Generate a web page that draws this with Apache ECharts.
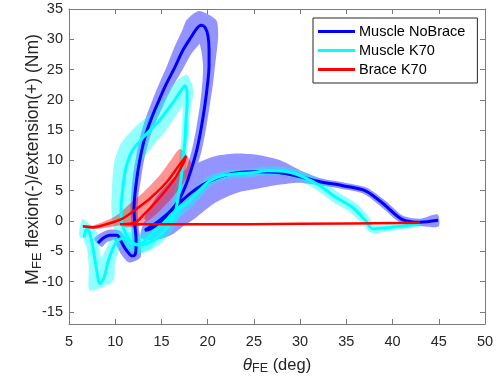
<!DOCTYPE html>
<html><head><meta charset="utf-8">
<script src="https://cdn.jsdelivr.net/npm/echarts@6/dist/echarts.min.js"></script>
<style>html,body{margin:0;padding:0;background:#fff}#c{width:502px;height:380px}</style>
</head><body><div id="c"></div>
<script>
// ---- tick labels ----
const xTicks = [5, 10, 15, 20, 25, 30, 35, 40, 45, 50];
const yTicks = [-15, -10, -5, 0, 5, 10, 15, 20, 25, 30, 35];
const seriesNames = ['Muscle NoBrace', 'Muscle K70', 'Brace K70'];

// ---- Muscle NoBrace (mean curve and band half-width) ----
const blueX = [8.14,8.68,9.44,10.19,10.73,11.27,11.82,12.14,12.25,12.25,12.14,12.03,12.14,12.36,12.68,13.22,13.87,14.63,15.49,16.47,17.33,18.20,18.85,19.28,19.71,20.04,20.15,20.15,20.04,19.71,19.28,18.85,18.31,17.66,16.79,15.71,14.52,13.55,13.22,13.76,14.84,15.93,17.01,18.09,19.50,21.33,23.17,25.34,27.83,29.99,32.15,34.64,37.02,38.97,41.02,42.97,44.92];
const blueY = [-3.64,-2.83,-2.34,-2.34,-3.64,-4.95,-5.77,-5.60,-4.46,-2.83,-0.87,2.08,4.53,7.30,10.24,13.84,16.78,19.56,22.50,25.44,28.22,30.34,31.81,32.30,31.98,30.51,28.22,25.77,23.32,19.23,15.15,11.88,8.94,6.00,3.22,1.26,-0.21,-1.19,-1.52,-1.36,-0.21,1.58,3.06,4.53,6.00,7.30,7.96,8.12,7.96,7.30,6.49,5.83,5.02,2.89,0.28,-0.21,0.11];
const blueSD = [0.9,0.9,0.9,0.9,1.0,1.1,1.2,1.0,0.8,0.7,0.6,0.6,0.6,0.7,0.7,0.8,0.9,1.0,1.1,1.3,1.5,1.8,2.2,2.4,2.2,1.7,1.3,1.0,0.9,0.8,0.8,0.8,0.8,0.8,0.9,1.0,1.1,1.2,1.5,2.0,2.8,3.3,3.6,3.7,3.6,3.5,3.2,2.8,2.0,1.0,0.6,0.55,0.55,0.6,0.6,0.6,1.0];

// ---- Muscle K70 (two pieces separated by null) ----
const cyanX = [6.62,6.95,7.27,7.60,7.92,8.35,8.79,9.22,9.76,10.30,10.95,11.60,12.36,13.22,14.09,15.06,16.03,17.01,18.09,19.17,20.25,21.55,23.17,24.80,26.42,28.58,30.31,32.15,33.78,35.72,37.02,37.89,39.73,41.89,42.97,
  null,
  12.68,11.92,11.27,10.73,10.63,10.73,10.95,11.27,11.82,12.57,13.44,14.52,15.60,16.47,17.12,17.55,17.77,17.77,17.66,17.55,17.33,17.12,16.79,16.47,15.71,14.63,13.55,12.68];
const cyanY = [-2.70,-1.10,-2.20,-4.46,-7.40,-10.34,-9.36,-6.75,-4.46,-3.15,-2.83,-3.32,-3.97,-3.32,-1.85,-0.54,0.77,2.08,3.38,5.18,6.65,7.47,7.79,7.96,8.28,8.12,7.30,5.83,4.00,2.20,0.20,-1.30,-1.05,-0.70,-0.38,
  null,
  -3.97,-3.64,-2.50,-0.38,2.08,4.04,6.98,9.43,11.55,13.02,14.49,16.13,18.25,20.05,21.52,22.34,21.36,19.23,16.78,13.51,10.24,6.98,3.71,1.42,-0.87,-2.66,-3.64,-3.97];
const cyanSD = [0.8,1.6,1.2,1.0,1.2,2.0,1.6,1.2,1.0,1.0,1.2,1.4,1.5,1.5,1.4,1.3,1.2,1.1,1.0,0.9,0.8,0.7,0.7,0.7,0.7,0.7,0.8,0.9,0.9,0.9,0.8,0.7,0.6,0.5,0.5,
  null,
  1.3,1.3,1.4,1.5,1.6,1.7,1.9,2.1,2.2,2.2,2.1,1.9,1.7,1.6,1.7,1.8,1.1,0.7,0.6,0.6,0.6,0.7,0.8,0.9,1.0,1.1,1.2,1.3];

// ---- Brace K70 ----
const redX = [6.51,7.60,8.68,9.76,10.84,11.92,13.76,15.60,16.79,17.66,17.44,16.57,15.60,14.63,13.76,13.01,12.36,11.60,10.73,
  null,
  10.52,19.17,29.99,42.97];
const redY = [-0.87,-1.03,-0.70,-0.21,0.44,1.58,3.71,6.49,8.94,10.74,9.76,7.30,5.34,3.55,2.08,0.93,-0.05,-0.46,-0.54,
  null,
  -0.54,-0.54,-0.46,-0.29];
const redSD = [0.2,0.3,0.5,0.7,1.0,1.3,1.5,1.6,1.6,1.5,1.5,1.6,1.6,1.5,1.4,1.2,0.9,0.6,0.4,
  null,
  0,0,0,0];

const FONT = '"Liberation Sans", Arial, Helvetica, sans-serif';
const AXIS_COLOR = '#7a7a7a';
const TEXT_COLOR = '#262626';

function lineData(X, Y) {
  return X.map((x, i) => x == null ? ['-', '-'] : [x, Y[i]]);
}

function bandSeries(id, X, Y, W, color) {
  return {
    type: 'custom', name: id + ' band', silent: true,
    data: [[20, 0]],
    encode: { x: 0, y: 1 },
    renderItem: function (params, api) {
      const segs = [];
      let seg = [];
      for (let i = 0; i < X.length; i++) {
        if (X[i] == null) { if (seg.length) segs.push(seg); seg = []; continue; }
        const p = api.coord([X[i], Y[i]]);
        const w = Math.abs(api.size([0, W[i]])[1]);
        seg.push([p[0], p[1], w]);
      }
      if (seg.length) segs.push(seg);
      const children = [];
      segs.forEach(function (s) {
        if (s.every(q => q[2] === 0)) return;
        const L = [], R = [];
        for (let i = 0; i < s.length; i++) {
          const a = s[Math.max(0, i - 1)], b = s[Math.min(s.length - 1, i + 1)];
          let tx = b[0] - a[0], ty = b[1] - a[1];
          const len = Math.hypot(tx, ty) || 1;
          tx /= len; ty /= len;
          const nx = -ty, ny = tx;
          L.push([s[i][0] + nx * s[i][2], s[i][1] + ny * s[i][2]]);
          R.push([s[i][0] - nx * s[i][2], s[i][1] - ny * s[i][2]]);
        }
        children.push({
          type: 'polygon',
          shape: { points: L.concat(R.reverse()), smooth: 0.25 },
          style: { fill: color }
        });
      });
      return { type: 'group', children: children };
    },
    z: 2
  };
}

function lineSeries(name, X, Y, color, width) {
  return {
    type: 'line', name: name, data: lineData(X, Y),
    showSymbol: false, symbol: 'none', smooth: 0.3, connectNulls: false,
    lineStyle: { color: color, width: width }, itemStyle: { color: color },
    silent: true, z: 2
  };
}

const chart = echarts.init(document.getElementById('c'), null, { renderer: 'canvas' });

const commonX = {
  type: 'value', min: xTicks[0], max: xTicks[xTicks.length - 1], interval: 5,
  axisLine: { show: true, onZero: false, lineStyle: { color: AXIS_COLOR, width: 1 } },
  axisTick: { show: true, inside: true, length: 5, lineStyle: { color: AXIS_COLOR } },
  splitLine: { show: false }
};
const commonY = {
  type: 'value', min: -17, max: 35,
  axisLine: { show: true, onZero: false, lineStyle: { color: AXIS_COLOR, width: 1 } },
  axisTick: { show: true, inside: true, length: 5, customValues: yTicks, lineStyle: { color: AXIS_COLOR } },
  splitLine: { show: false }
};

chart.setOption({
  animation: false,
  backgroundColor: '#ffffff',
  grid: { left: 69, right: 17, top: 9, bottom: 54, containLabel: false },
  legend: {
    data: seriesNames,
    orient: 'vertical', left: 313, top: 18,
    icon: 'rect', itemWidth: 37, itemHeight: 3, itemGap: 4,
    padding: [6, 12, 6, 5],
    backgroundColor: '#ffffff', borderColor: '#262626', borderWidth: 1,
    textStyle: { fontFamily: FONT, fontSize: 14.5, color: '#000000', padding: [0, 0, 0, -1] }
  },
  xAxis: [
    Object.assign({}, commonX, {
      position: 'bottom',
      axisLabel: { color: TEXT_COLOR, fontSize: 14.5, fontFamily: FONT, margin: 10 },
      name: '{th|θ}{s|FE}{t| (deg)}', nameLocation: 'middle', nameGap: 31, nameMoveOverlap: false,
      nameTextStyle: {
        rich: {
          th: { fontFamily: FONT, fontSize: 17, fontStyle: 'italic', color: TEXT_COLOR, lineHeight: 20 },
          s: { fontFamily: FONT, fontSize: 12.5, color: TEXT_COLOR, verticalAlign: 'bottom', lineHeight: 12 },
          t: { fontFamily: FONT, fontSize: 16.5, color: TEXT_COLOR, lineHeight: 20 }
        }
      }
    }),
    Object.assign({}, commonX, { position: 'top', axisLabel: { show: false } })
  ],
  yAxis: [
    Object.assign({}, commonY, {
      position: 'left',
      axisLabel: { customValues: yTicks, color: TEXT_COLOR, fontSize: 14.5, fontFamily: FONT, margin: 6 },
      name: '{m|M}{s|FE}{t| flexion(-)/extension(+) (Nm)}', nameLocation: 'middle', nameGap: 25, nameMoveOverlap: false,
      nameTextStyle: {
        padding: [0, 0, 0, 14],
        rich: {
          m: { fontFamily: FONT, fontSize: 19, color: TEXT_COLOR, lineHeight: 22 },
          s: { fontFamily: FONT, fontSize: 13, color: TEXT_COLOR, verticalAlign: 'bottom', lineHeight: 12 },
          t: { fontFamily: FONT, fontSize: 17.5, color: TEXT_COLOR, lineHeight: 22 }
        }
      }
    }),
    Object.assign({}, commonY, { position: 'right', axisLabel: { show: false } })
  ],
  series: [
    bandSeries('blue', blueX, blueY, blueSD, 'rgba(0,0,255,0.42)'),
    lineSeries(seriesNames[0], blueX, blueY, '#0000ff', 3),
    bandSeries('cyan', cyanX, cyanY, cyanSD, 'rgba(0,255,255,0.42)'),
    lineSeries(seriesNames[1], cyanX, cyanY, '#00ffff', 3),
    bandSeries('red', redX, redY, redSD, 'rgba(255,0,0,0.42)'),
    lineSeries(seriesNames[2], redX, redY, '#ff0000', 2.5)
  ]
});
</script>
</body></html>
